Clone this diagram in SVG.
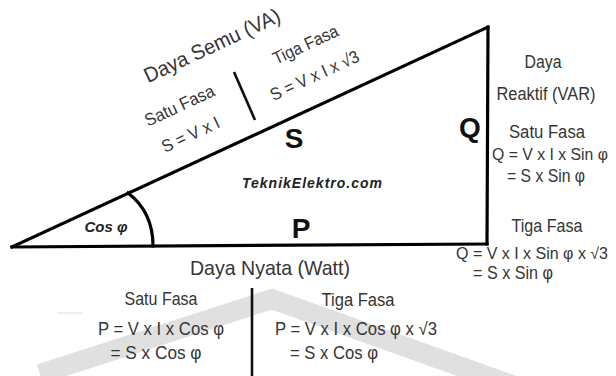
<svg xmlns="http://www.w3.org/2000/svg" width="616" height="376" viewBox="0 0 616 376">
<style>
  .t { font-family: "Liberation Sans", Arial, sans-serif; fill: #353535; text-anchor: middle; }
  .s16 { font-size: 17.5px; }
  .s15 { font-size: 16px; }
  .big { font-family: "Liberation Sans", Arial, sans-serif; font-weight: bold; fill: #111; text-anchor: middle; font-size: 28px; }
  .bi { font-family: "Liberation Sans", Arial, sans-serif; font-weight: bold; font-style: italic; fill: #222; text-anchor: middle; }
  .edge { fill: none; stroke: #000; stroke-width: 3.2; stroke-linecap: square; }
  .div { stroke: #111; stroke-width: 2.6; }
</style>
<rect width="616" height="376" fill="#fff"/>
<g id="watermark">
  <polyline points="40,374 272,299 520,388" fill="none" stroke="#e0e0e0" stroke-width="20" stroke-linejoin="miter"/>
  <line x1="57" y1="313" x2="83" y2="313" stroke="#eeeeee" stroke-width="2"/>
</g>
<g id="triangle">
  <line class="edge" x1="12" y1="247" x2="487" y2="244"/>
  <line class="edge" x1="12" y1="247" x2="488" y2="27"/>
  <line class="edge" x1="488" y1="27" x2="487" y2="244"/>
  <path class="edge" d="M128,193 Q153,212 153,246" stroke-width="4"/>
</g>
<g id="labels-bold">
  <text class="big" x="294" y="148">S</text>
  <text class="big" x="470" y="137">Q</text>
  <text class="big" x="301" y="238">P</text>
  <text class="bi" x="312" y="188" font-size="14" textLength="140" lengthAdjust="spacing">TeknikElektro.com</text>
  <text class="bi" x="106" y="232" font-size="15">Cos φ</text>
</g>
<g id="hypotenuse-text">
  <text class="t" font-size="21" textLength="148" lengthAdjust="spacingAndGlyphs" transform="translate(215,52) rotate(-25)">Daya Semu (VA)</text>
  <text class="t s16" textLength="75" lengthAdjust="spacingAndGlyphs" transform="translate(182,111) rotate(-25)">Satu Fasa</text>
  <text class="t s16" textLength="62" lengthAdjust="spacingAndGlyphs" transform="translate(193,140) rotate(-25)">S = V x I</text>
  <text class="t s16" textLength="70" lengthAdjust="spacingAndGlyphs" transform="translate(308,50) rotate(-25)">Tiga Fasa</text>
  <text class="t s16" textLength="96" lengthAdjust="spacingAndGlyphs" transform="translate(317,81) rotate(-25)">S = V x I x √3</text>
  <line class="div" x1="234" y1="72" x2="255" y2="120"/>
</g>
<g id="reactive-text">
  <text class="t s16" x="543" y="68" textLength="37" lengthAdjust="spacingAndGlyphs">Daya</text>
  <text class="t s16" x="546" y="100" textLength="99" lengthAdjust="spacingAndGlyphs">Reaktif (VAR)</text>
  <text class="t s16" x="547" y="138" textLength="76" lengthAdjust="spacingAndGlyphs">Satu Fasa</text>
  <text class="t s15" x="550" y="160" textLength="116" lengthAdjust="spacingAndGlyphs">Q = V x I x Sin φ</text>
  <text class="t s16" x="546" y="182" textLength="78" lengthAdjust="spacingAndGlyphs">= S x Sin φ</text>
  <text class="t s16" x="547" y="232" textLength="71" lengthAdjust="spacingAndGlyphs">Tiga Fasa</text>
  <text class="t s15" x="532" y="259" textLength="152" lengthAdjust="spacingAndGlyphs">Q = V x I x Sin φ x √3</text>
  <text class="t s16" x="513" y="279" textLength="80" lengthAdjust="spacingAndGlyphs">= S x Sin φ</text>
</g>
<g id="real-text">
  <text class="t" font-size="21" x="270" y="275" textLength="160" lengthAdjust="spacingAndGlyphs">Daya Nyata (Watt)</text>
  <line class="div" x1="252" y1="288" x2="252" y2="376"/>
  <text class="t s16" x="161" y="305" textLength="73" lengthAdjust="spacingAndGlyphs">Satu Fasa</text>
  <text class="t s16" x="161" y="335" textLength="126" lengthAdjust="spacingAndGlyphs">P = V x I x Cos φ</text>
  <text class="t s16" x="156" y="359" textLength="91" lengthAdjust="spacingAndGlyphs">= S x Cos φ</text>
  <text class="t s16" x="358" y="306" textLength="73" lengthAdjust="spacingAndGlyphs">Tiga Fasa</text>
  <text class="t s16" x="356" y="335" textLength="162" lengthAdjust="spacingAndGlyphs">P = V x I x Cos φ x √3</text>
  <text class="t s16" x="334" y="359" textLength="88" lengthAdjust="spacingAndGlyphs">= S x Cos φ</text>
</g>
</svg>
